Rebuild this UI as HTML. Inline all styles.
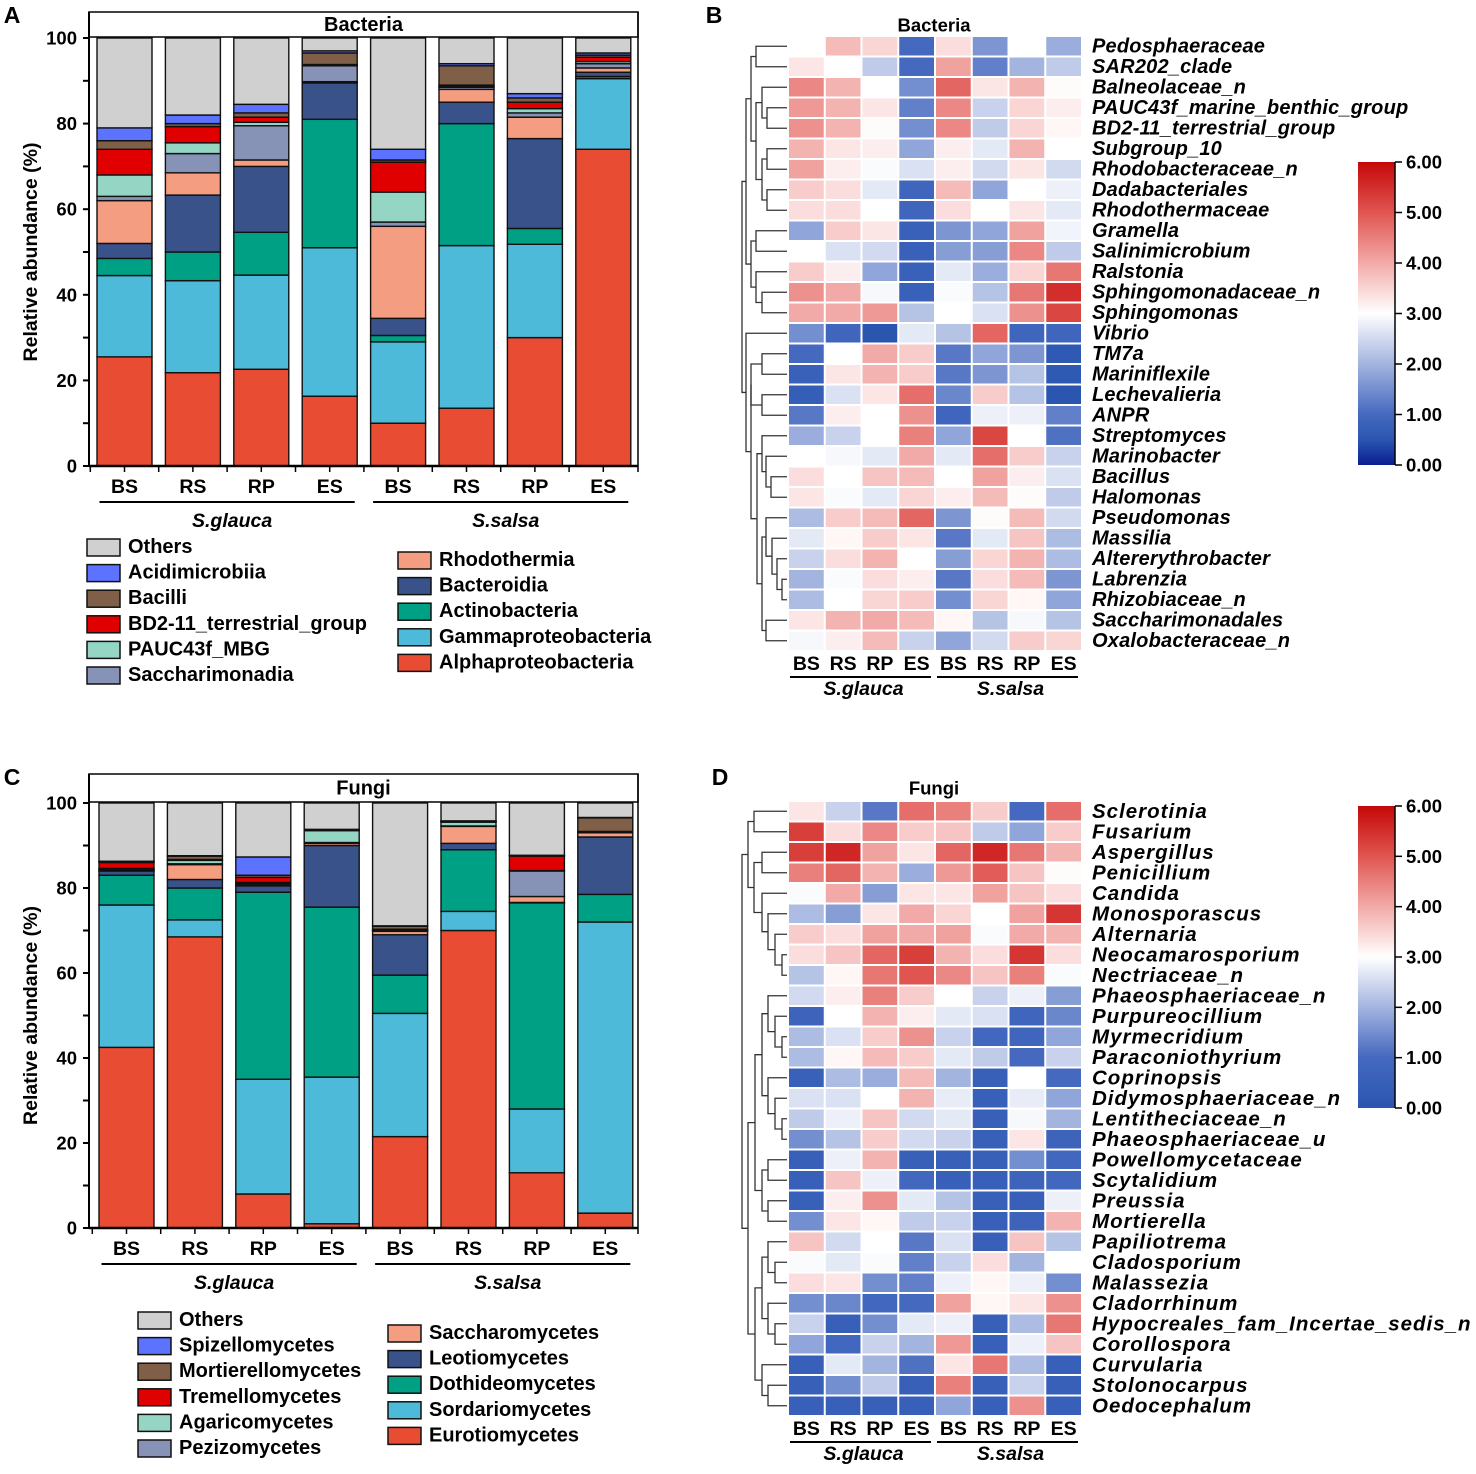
<!DOCTYPE html>
<html><head><meta charset="utf-8"><style>
body{margin:0;background:#fff}
svg text{font-family:"Liberation Sans",Arial,sans-serif}
</style></head><body>
<svg id="fig" xmlns="http://www.w3.org/2000/svg" width="1476" height="1469" viewBox="0 0 1476 1469">
<g id="root"></g>
</svg>
<script>
// ---------- DATA ----------
const samples = ["BS","RS","RP","ES","BS","RS","RP","ES"];
const groups = ["S.glauca","S.salsa"];
const bacClasses = ["Alphaproteobacteria","Gammaproteobacteria","Actinobacteria","Bacteroidia","Rhodothermia","Saccharimonadia","PAUC43f_MBG","BD2-11_terrestrial_group","Bacilli","Acidimicrobiia","Others"];
const bacAlpha = [25.5,21.8,22.6,16.3,10,13.5,30,74];
const bacGamma = [19,21.5,22,34.7,19,38,21.8,16.5];
const bacActino = [4,6.7,10,30,1.5,28.5,3.7,0.5];
const bacBacteroidia = [3.5,13.3,15.4,8.5,4,5,21,1];
const bacRhodo = [10,5.2,1.5,0.3,21.5,3,5,1];
const bacSacchar = [1,4.5,8,3.7,1,0.5,1,1];
const bacPAUC = [5,2.5,0.8,0.1,7,0.2,1,0.5];
const bacBD2 = [6,3.8,1.2,0.2,7,0.3,1.5,1];
const bacBacilli = [2,0.7,1,2.7,0.5,4.5,1,0.5];
const bacAcidi = [3,2,2,0.5,2.5,0.5,1,0.5];
const bacOthers = [21,18,15.5,3,26,6,13,3.5];

const funClasses = ["Eurotiomycetes","Sordariomycetes","Dothideomycetes","Leotiomycetes","Saccharomycetes","Pezizomycetes","Agaricomycetes","Tremellomycetes","Mortierellomycetes","Spizellomycetes","Others"];
const funEuro = [42.5,68.5,8,1,21.5,70,13,3.5];
const funSord = [33.5,4,27,34.5,29,4.5,15,68.5];
const funDoth = [7,7.5,44,40,9,14.5,48.5,6.5];
const funLeo = [1,2,1.5,14.5,9.5,1.5,0.1,13.5];
const funSacch = [0.2,3.5,0.3,0.5,0.8,4,1.4,1];
const funPez = [0.2,0.2,0.2,0.2,0.2,0.1,6,0.1];
const funAgar = [0.2,0.8,0.3,2.8,0.1,0.9,0.1,0.1];
const funTrem = [1.4,0.2,1.2,0.1,0.2,0.1,3.4,0.1];
const funMort = [0.2,0.8,0.5,0.1,0.7,0.1,0.1,3.2];
const funSpiz = [0.1,0.1,4.3,0.1,0.1,0.1,0.1,0.1];
const funOthers = [13.7,12.4,12.7,6.2,28.9,4.2,12.3,3.4];

const yTicks = [0,20,40,60,80,100];
const cbTicks = ["0.00","1.00","2.00","3.00","4.00","5.00","6.00"];

const bacTaxa = ["Pedosphaeraceae","SAR202_clade","Balneolaceae_n","PAUC43f_marine_benthic_group","BD2-11_terrestrial_group","Subgroup_10","Rhodobacteraceae_n","Dadabacteriales","Rhodothermaceae","Gramella","Salinimicrobium","Ralstonia","Sphingomonadaceae_n","Sphingomonas","Vibrio","TM7a","Mariniflexile","Lechevalieria","ANPR","Streptomyces","Marinobacter","Bacillus","Halomonas","Pseudomonas","Massilia","Altererythrobacter","Labrenzia","Rhizobiaceae_n","Saccharimonadales","Oxalobacteraceae_n"];
const bacHeat = [
[3.0,3.8,3.5,1.0,3.4,1.6,3.0,1.9],
[3.3,3.0,2.3,1.0,4.1,1.3,2.0,2.3],
[4.4,3.9,3.0,1.5,4.8,3.3,3.9,3.05],
[4.2,3.9,3.3,1.3,4.4,2.4,3.5,3.2],
[4.3,3.9,3.05,1.5,4.4,2.3,3.5,3.1],
[3.9,3.3,3.2,1.8,3.2,2.7,3.9,3.0],
[4.1,3.2,2.95,2.6,3.2,2.5,3.3,2.5],
[3.6,3.4,2.7,0.9,3.8,1.8,3.0,2.8],
[3.4,3.4,3.0,0.9,3.4,3.0,3.3,2.7],
[1.8,3.6,3.3,0.8,1.6,1.8,4.1,2.85],
[3.0,2.6,2.5,0.8,1.7,1.7,4.4,2.3],
[3.6,3.2,1.8,0.8,2.7,1.9,3.5,4.6],
[4.3,4.0,2.9,0.8,2.95,2.2,4.6,5.5],
[4.0,4.0,4.2,2.2,3.0,2.6,4.3,5.2],
[1.5,0.9,0.5,2.7,2.2,4.8,0.9,0.9],
[1.0,3.0,4.0,3.6,1.2,1.8,1.6,0.6],
[0.8,3.3,3.9,3.6,1.2,1.6,2.2,0.6],
[0.7,2.6,3.3,4.7,1.4,3.6,2.2,0.5],
[1.2,3.2,3.0,4.3,0.9,2.8,2.8,1.3],
[1.9,2.4,3.0,4.5,1.8,5.2,3.0,1.1],
[3.0,2.9,2.7,4.0,2.7,4.7,3.6,2.4],
[3.4,3.0,3.7,3.8,3.0,4.1,3.2,2.6],
[3.3,2.95,2.7,3.5,3.2,3.8,3.05,2.3],
[2.1,3.6,3.8,4.8,1.6,3.05,3.8,2.5],
[2.7,3.1,3.6,3.3,1.2,2.7,3.7,2.1],
[2.4,3.4,3.9,3.0,1.7,3.5,3.9,2.1],
[2.0,2.95,3.4,3.2,1.2,3.4,3.8,1.6],
[2.1,3.0,3.5,3.6,1.5,3.5,3.1,1.8],
[3.3,3.9,4.0,3.8,3.1,2.2,2.9,2.2],
[2.9,3.2,3.8,2.4,1.8,2.5,3.6,3.5]];
const funTaxa = ["Sclerotinia","Fusarium","Aspergillus","Penicillium","Candida","Monosporascus","Alternaria","Neocamarosporium","Nectriaceae_n","Phaeosphaeriaceae_n","Purpureocillium","Myrmecridium","Paraconiothyrium","Coprinopsis","Didymosphaeriaceae_n","Lentitheciaceae_n","Phaeosphaeriaceae_u","Powellomycetaceae","Scytalidium","Preussia","Mortierella","Papiliotrema","Cladosporium","Malassezia","Cladorrhinum","Hypocreales_fam_Incertae_sedis_n","Corollospora","Curvularia","Stolonocarpus","Oedocephalum"];
const funHeat = [
[3.3,2.4,1.2,4.7,4.5,3.6,1.0,4.7],
[5.3,3.4,4.4,3.6,3.7,2.3,1.8,3.6],
[5.3,5.6,4.1,3.3,4.8,5.6,4.6,3.9],
[4.5,4.8,3.9,1.9,4.2,4.9,3.7,3.05],
[2.95,4.0,1.7,3.3,3.3,4.1,3.7,3.4],
[2.1,1.7,3.3,4.0,3.5,3.0,4.1,5.4],
[3.6,3.4,4.1,4.0,4.1,2.95,4.0,3.9],
[3.4,3.7,4.8,5.3,3.9,3.4,5.4,3.4],
[2.2,3.1,4.6,5.0,4.4,3.7,4.5,2.95],
[2.5,3.2,4.5,3.6,3.0,2.4,2.8,1.7],
[0.7,3.0,3.9,3.2,2.7,2.6,0.8,1.4],
[2.1,2.6,3.6,4.3,2.4,0.9,0.8,1.8],
[2.1,3.1,3.8,3.6,2.7,2.3,1.0,2.4],
[0.6,2.1,1.9,3.8,2.0,0.5,3.0,1.0],
[2.6,2.6,3.0,3.9,2.75,0.5,2.75,1.8],
[2.3,2.8,3.7,2.5,2.7,0.5,2.9,2.0],
[1.5,2.2,3.6,2.5,2.4,0.5,3.3,0.7],
[0.5,2.8,3.9,0.5,0.5,0.5,1.5,0.9],
[0.5,3.7,2.8,0.9,0.5,0.5,0.7,0.9],
[0.5,3.2,4.3,2.7,2.2,0.5,0.5,2.8],
[1.5,3.3,3.1,2.3,2.4,0.5,0.7,3.9],
[3.7,2.5,3.0,1.2,2.6,0.5,3.7,2.2],
[2.95,2.7,2.95,1.3,2.4,3.4,2.0,3.0],
[3.4,3.3,1.5,1.3,2.8,3.1,2.8,1.5],
[1.5,1.4,0.9,1.0,4.1,3.1,3.3,4.3],
[2.4,0.5,1.5,2.7,2.8,0.5,2.1,4.6],
[1.8,0.9,2.4,2.0,4.2,0.5,2.8,3.7],
[0.5,2.7,2.0,1.1,3.3,4.6,2.1,0.5],
[0.5,1.5,2.3,0.5,4.5,0.5,2.4,0.5],
[0.5,0.5,0.5,0.5,1.8,0.5,4.3,0.5]];

const bacTree = [[[0,1,756],[[2,[3,4,767],762],[[5,6,767],[7,8,767],762],756],751],[[9,10,756],[11,[12,13,762],756],751],746];
const bacTree2 = [14,[[[15,16,762],[17,18,762],751],[[19,[20,[21,22,771],766],762],[[23,[24,[25,[26,27,782],777],772],766],[28,29,766],762],757],751],746];
const funTree = [[[0,1,754],[[2,3,762],[4,[5,[6,[7,8,782],775],768],762],754],748],[[[[9,[10,[11,12,782],775],768],[13,[14,[15,16,782],775],768],762],[[17,18,768],[19,20,768],762],755],[[[21,[22,23,775],768],[24,[25,26,775],768],762],[27,[28,29,768],762],755],748],742];

// ---------- HELPERS ----------
const NS="http://www.w3.org/2000/svg";
const root=document.getElementById('root');
function mk(tag,attrs,parent){const e=document.createElementNS(NS,tag);for(const k in attrs)e.setAttribute(k,attrs[k]);(parent||root).appendChild(e);return e;}
function txt(x,y,s,opts,parent){const e=mk('text',Object.assign({x:x,y:y,'font-size':19,'font-weight':'bold','text-anchor':'middle','dominant-baseline':'central',fill:'#000'},opts||{}),parent);e.textContent=s;return e;}

const colors={Others:"#d0d0d0",blue:"#5b73ff",brown:"#7f5f47",red:"#e00000",mint:"#94d5c3",slate:"#8793b6",salmon:"#f59d80",navy:"#39528a",teal:"#00a085",sky:"#4cbad8",orange:"#e84c33"};
const classColors=[colors.orange,colors.sky,colors.teal,colors.navy,colors.salmon,colors.slate,colors.mint,colors.red,colors.brown,colors.blue,colors.Others];

// ---------- STACKED BAR PANEL ----------
function stackedPanel(cfg){
  const g=mk('g',{});
  
  
  const x0=89,x1=638,yTop=cfg.y100,yBot=cfg.y0;
  const yS=v=>yBot-(yBot-yTop)*v/100;
  const xC=i=>cfg.xc0+i*cfg.pitch;
  const hb=mk('rect',{x:x0,y:cfg.boxTop,width:x1-x0,height:yTop-cfg.boxTop-1,fill:'#fff',stroke:'#000','stroke-width':1.5},g);
  
  
  const tt=txt((x0+x1)/2,(cfg.boxTop+yTop)/2,cfg.title,{'font-size':20},g);
  
  
  mk('line',{x1:x0,y1:cfg.boxTop,x2:x0,y2:yBot,stroke:'#000','stroke-width':2},g);
  mk('line',{x1:x1,y1:cfg.boxTop,x2:x1,y2:yBot,stroke:'#000','stroke-width':1.5},g);
  for(let i=0;i<8;i++){
    let acc=0;
    cfg.series.forEach((arr,k)=>{
      const v=arr[i];
      const r=mk('rect',{x:xC(i)-27.5,y:yS(acc+v),width:55,height:yS(acc)-yS(acc+v),fill:classColors[k],stroke:'#111','stroke-width':1.4},g);
      
      
      acc+=v;
    });
  }
  for(let v=0;v<=100;v+=10){mk('line',{x1:x0-6,y1:yS(v),x2:x0,y2:yS(v),stroke:'#000','stroke-width':2},g);}
  yTicks.forEach(v=>{const t=txt(x0-12,yS(v),String(v),{'text-anchor':'end','font-size':18.5},g);
    
    });
  mk('line',{x1:x0,y1:yBot,x2:x1,y2:yBot,stroke:'#000','stroke-width':2.5},g);
  for(let i=0;i<8;i++){
    mk('line',{x1:xC(i),y1:yBot,x2:xC(i),y2:yBot+6,stroke:'#000','stroke-width':1.5},g);
    mk('line',{x1:xC(i)-cfg.pitch/2,y1:yBot,x2:xC(i)-cfg.pitch/2,y2:yBot+6,stroke:'#000','stroke-width':1.5},g);
    const t=txt(xC(i),yBot+21,samples[i],{'font-size':19.5},g);
    
    
  }
  mk('line',{x1:x1,y1:yBot,x2:x1,y2:yBot+6,stroke:'#000','stroke-width':1.5},g);
  [[0,3],[4,7]].forEach((p,gi)=>{
    const a=xC(p[0])-25,b=xC(p[1])+25;
    mk('line',{x1:a,y1:yBot+36,x2:b,y2:yBot+36,stroke:'#000','stroke-width':2},g);
    const t=txt((a+b)/2+5,yBot+55,groups[gi],{'font-style':'italic','font-size':19.5},g);
    
    
  });
  const yt=txt(31,(yTop+yBot)/2,'Relative abundance (%)',{'font-size':19.5,transform:`rotate(-90 31 ${(yTop+yBot)/2})`},g);
  
  
  cfg.legend.forEach(L=>{
    L.items.forEach((k,j)=>{
      const y=L.y0+j*25.6;
      const sw=mk('rect',{x:L.x,y:y-8,width:33,height:17,fill:classColors[k],stroke:'#111','stroke-width':1.5},g);
      
      
      const t=txt(L.x+41,y,cfg.classes[k],{'text-anchor':'start','font-size':20},g);
      
      
    });
  });
}

stackedPanel({name:'bacteria-stacked-bar',title:'Bacteria',boxTop:12,y100:38,y0:466,xc0:124.5,pitch:68.4,
  classes:bacClasses,
  series:[bacAlpha,bacGamma,bacActino,bacBacteroidia,bacRhodo,bacSacchar,bacPAUC,bacBD2,bacBacilli,bacAcidi,bacOthers],
  legend:[{x:87,y0:547,items:[10,9,8,7,6,5]},{x:398,y0:560,items:[4,3,2,1,0]}]});
stackedPanel({name:'fungi-stacked-bar',title:'Fungi',boxTop:774,y100:803,y0:1228,xc0:126.5,pitch:68.4,
  classes:funClasses,
  series:[funEuro,funSord,funDoth,funLeo,funSacch,funPez,funAgar,funTrem,funMort,funSpiz,funOthers],
  legend:[{x:138,y0:1320,items:[10,9,8,7,6,5]},{x:388,y0:1333,items:[4,3,2,1,0]}]});

// ---------- HEATMAPS ----------
function lerp(a,b,t){return a+(b-a)*t;}
function hex(h){return [parseInt(h.slice(1,3),16),parseInt(h.slice(3,5),16),parseInt(h.slice(5,7),16)];}
function cmap(v,stops){
  v=Math.max(0,Math.min(6,v));
  for(let i=0;i<stops.length-1;i++){
    if(v<=stops[i+1][0]){const t=(v-stops[i][0])/(stops[i+1][0]-stops[i][0]);const a=hex(stops[i][1]),b=hex(stops[i+1][1]);
      return `rgb(${Math.round(lerp(a[0],b[0],t))},${Math.round(lerp(a[1],b[1],t))},${Math.round(lerp(a[2],b[2],t))})`;}
  }
  return stops[stops.length-1][1];
}
const stopsB=[[0,"#0a1e92"],[0.5,"#2a56b0"],[1,"#4569bf"],[2,"#a3b4df"],[3,"#ffffff"],[4,"#f2aaa8"],[5,"#e05550"],[6,"#c40808"]];
const stopsF=[[0,"#2a56b0"],[1,"#4569bf"],[2,"#a3b4df"],[3,"#ffffff"],[4,"#f2aaa8"],[5,"#e05550"],[6,"#c40808"]];

function heatPanel(cfg){
  const g=mk('g',{});
  
  
  const hx0=788,cw=36.75,rh=20.5,top=cfg.top;
  const rowY=i=>top+rh*(i+0.5);
  const colX=j=>hx0+cw*j;
  const tt=txt(934,cfg.titleY,cfg.title,{'font-size':18.5},g);
  
  
  cfg.data.forEach((row,i)=>{
    row.forEach((v,j)=>{
      const r=mk('rect',{x:colX(j)+1,y:top+rh*i+1,width:cw-2,height:rh-2,fill:cmap(v,cfg.stops)},g);
      
      
    });
    const t=txt(1092,rowY(i),cfg.taxa[i],{'text-anchor':'start','font-style':'italic','font-size':cfg.labelSize,'letter-spacing':cfg.labelSpacing},g);
    
    
  });
  const by=top+rh*30;
  samples.forEach((s,j)=>{const t=txt(colX(j)+cw/2,by+13,s,{'font-size':19.5},g);
    
    });
  [[0,3],[4,7]].forEach((p,gi)=>{
    const a=colX(p[0])+2,b=colX(p[1]+1)-4;
    mk('line',{x1:a,y1:by+26,x2:b,y2:by+26,stroke:'#000','stroke-width':2},g);
    const t=txt((a+b)/2+3,by+38,groups[gi],{'font-style':'italic','font-size':19.5},g);
    
    
  });
  const leafX=787;
  function draw(n){
    if(typeof n==='number')return {y:rowY(n),x:leafX};
    const a=draw(n[0]),b=draw(n[1]),x=n[2];
    mk('path',{d:`M${a.x} ${a.y}H${x}V${b.y}H${b.x}`,fill:'none',stroke:'#333','stroke-width':1.3},g);
    return {y:(a.y+b.y)/2,x:x};
  }
  cfg.trees.forEach(t=>draw(t));
  const cb=cfg.cb;
  const gid='grad'+cfg.name;
  const defs=mk('defs',{},g);
  const lg=mk('linearGradient',{id:gid,x1:0,y1:1,x2:0,y2:0},defs);
  cfg.stops.forEach(s=>mk('stop',{offset:(s[0]/6),'stop-color':s[1]},lg));
  const bar=mk('rect',{x:1358,y:cb.top,width:37,height:cb.bot-cb.top,fill:`url(#${gid})`},g);
  
  
  cbTicks.forEach((s,k)=>{
    const y=cb.bot-(cb.bot-cb.top)*k/6;
    mk('line',{x1:1395,y1:y,x2:1402,y2:y,stroke:'#000','stroke-width':1.5},g);
    const t=txt(1406,y,s,{'text-anchor':'start','font-size':18.5},g);
    
    
  });
  mk('line',{x1:1395,y1:cb.top,x2:1395,y2:cb.bot,stroke:'#000','stroke-width':1.5},g);
}
heatPanel({name:'bacteria-heatmap',title:'Bacteria',titleY:25,top:36,data:bacHeat,taxa:bacTaxa,stops:stopsB,labelSize:20,labelSpacing:0.2,trees:[[bacTree,bacTree2,742]],cb:{top:162,bot:465}});
heatPanel({name:'fungi-heatmap',title:'Fungi',titleY:788,top:801,data:funHeat,taxa:funTaxa,stops:stopsF,labelSize:20.5,labelSpacing:1,trees:[funTree],cb:{top:806,bot:1108}});

[['A',12,15],['B',714,15],['C',12,777],['D',720,777]].forEach(p=>{
  const t=txt(p[1],p[2],p[0],{'font-size':23,'text-anchor':'middle'});
  
  
});
</script>
</body></html>
